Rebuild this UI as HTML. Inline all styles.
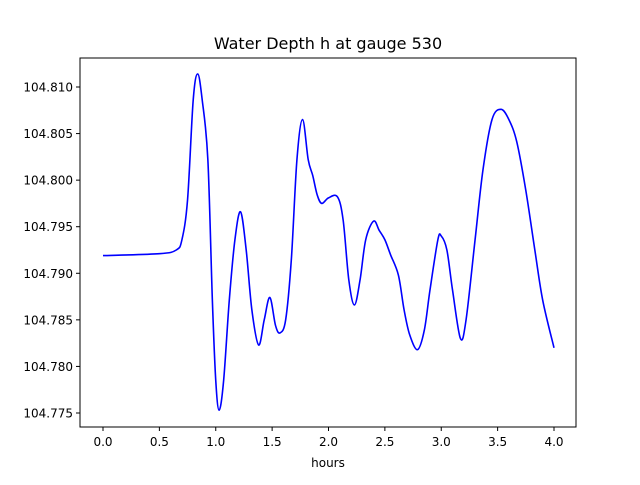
<!DOCTYPE html>
<html><head><meta charset="utf-8"><style>
body{margin:0;background:#fff;}
svg text{font-family:"DejaVu Sans","Liberation Sans",sans-serif;}
</style></head><body>
<svg width="640" height="480" viewBox="0 0 640 480">
<rect width="640" height="480" fill="#fff"/>
<text x="328" y="49" font-size="16" text-anchor="middle">Water Depth h at gauge 530</text>
<g id="axes"></g>
<path id="line" fill="none" stroke="#0000ff" stroke-width="1.6"/>
<rect x="80" y="58" width="496" height="369" fill="none" stroke="#000" stroke-width="1"/>
<text x="328" y="467" font-size="12" text-anchor="middle">hours</text>
</svg>
<script>
const hours=[0,0.5,0.65,0.7,0.75,0.8,0.84,0.88,0.93,0.97,1.0,1.03,1.07,1.12,1.17,1.22,1.27,1.32,1.38,1.43,1.48,1.53,1.57,1.62,1.67,1.72,1.77,1.82,1.86,1.9,1.94,2.0,2.08,2.13,2.18,2.23,2.28,2.33,2.4,2.45,2.5,2.55,2.62,2.67,2.72,2.79,2.85,2.9,2.97,3.0,3.05,3.1,3.17,3.22,3.3,3.37,3.45,3.53,3.6,3.67,3.75,3.83,3.9,4.0];
const depth=[104.7919,104.7921,104.7925,104.7936,104.7979,104.8086,104.8114,104.8086,104.8022,104.7871,104.7785,104.7753,104.7785,104.7871,104.7936,104.7966,104.7925,104.7861,104.7823,104.7850,104.7874,104.7844,104.7836,104.7850,104.7914,104.8022,104.8065,104.8022,104.8005,104.7984,104.7975,104.7981,104.7982,104.7957,104.7893,104.7866,104.7893,104.7936,104.7956,104.7946,104.7936,104.7920,104.7898,104.7861,104.7834,104.7818,104.7839,104.7882,104.7936,104.7940,104.7925,104.7882,104.7830,104.7850,104.7936,104.8011,104.8065,104.8076,104.8065,104.8041,104.7989,104.7925,104.7871,104.7820];
const xTicks=[0,0.5,1,1.5,2,2.5,3,3.5,4];
const yTicks=[104.775,104.78,104.785,104.79,104.795,104.8,104.805,104.81];
const X=h=>103+h*112.75;
const Y=v=>87+(104.810-v)/0.005*46.57;
const NS="http://www.w3.org/2000/svg";
const ax=document.getElementById('axes');
xTicks.forEach(t=>{
 const l=document.createElementNS(NS,'line');
 
 
 l.setAttribute('x1',X(t));l.setAttribute('x2',X(t));l.setAttribute('y1',427);l.setAttribute('y2',431);l.setAttribute('stroke','#000');
 ax.appendChild(l);
 const s=document.createElementNS(NS,'text');
 
 
 s.setAttribute('x',X(t));s.setAttribute('y',446);s.setAttribute('font-size','12');s.setAttribute('text-anchor','middle');
 s.textContent=t.toFixed(1);ax.appendChild(s);
});
yTicks.forEach(t=>{
 const l=document.createElementNS(NS,'line');
 
 
 l.setAttribute('x1',76);l.setAttribute('x2',80);l.setAttribute('y1',Y(t));l.setAttribute('y2',Y(t));l.setAttribute('stroke','#000');
 ax.appendChild(l);
 const s=document.createElementNS(NS,'text');
 
 
 s.setAttribute('x',73);s.setAttribute('y',Y(t)+4.5);s.setAttribute('font-size','12');s.setAttribute('text-anchor','end');
 s.textContent=t.toFixed(3);ax.appendChild(s);
});
const P=hours.map((h,i)=>[X(h),Y(depth[i])]);
let d='M'+P[0][0]+','+P[0][1];
for(let i=0;i<P.length-1;i++){
 const p0=P[i-1]||P[i],p1=P[i],p2=P[i+1],p3=P[i+2]||P[i+1];
 const c1=[p1[0]+(p2[0]-p0[0])/6,p1[1]+(p2[1]-p0[1])/6];
 const c2=[p2[0]-(p3[0]-p1[0])/6,p2[1]-(p3[1]-p1[1])/6];
 d+=' C'+c1+' '+c2+' '+p2;
}
document.getElementById('line').setAttribute('d',d);
</script>
</body></html>
